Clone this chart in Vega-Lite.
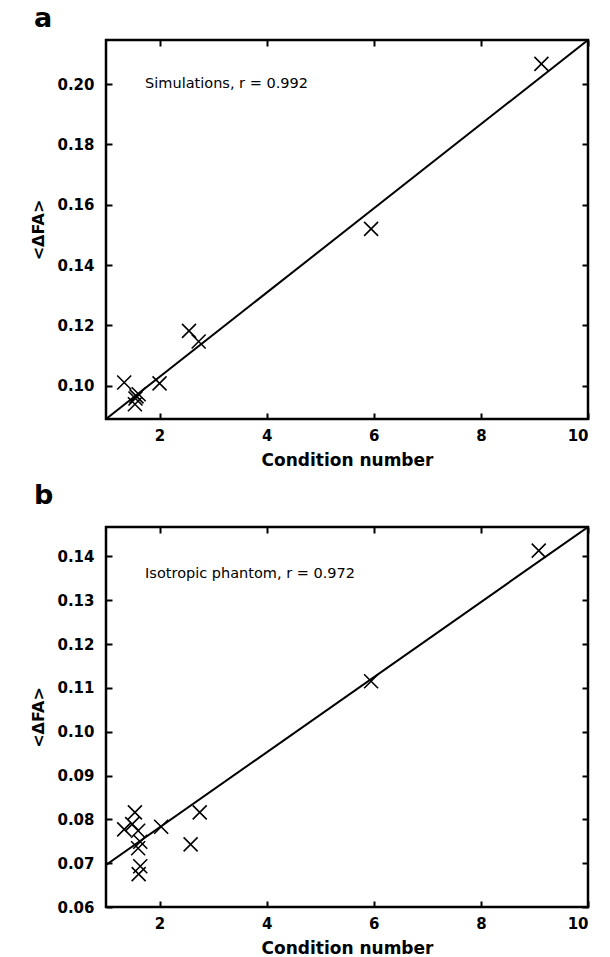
{
  "$schema": "https://vega.github.io/schema/vega-lite/v6.json",
  "padding": {"left": 29, "top": 3, "right": 6, "bottom": 0},
  "background": "white",
  "config": {
    "font": "DejaVu Sans",
    "view": {"stroke": "black", "strokeWidth": 2.5},
    "axis": {
      "domain": false, "grid": false,
      "tickColor": "black", "tickWidth": 2, "tickSize": -6,
      "labelFont": "DejaVu Sans", "labelFontSize": 15, "labelFontWeight": "bold", "labelColor": "black",
      "titleFont": "DejaVu Sans", "titleFontWeight": "bold", "titleColor": "black"
    },
    "title": {"font": "DejaVu Sans", "fontWeight": "bold", "fontSize": 27, "anchor": "start", "frame": "bounds", "color": "black", "baseline": "alphabetic", "dx": 3}
  },
  "datasets": {
    "ptsA": [
      {"cn": 9.13, "fa": 0.2067},
      {"cn": 5.95, "fa": 0.152},
      {"cn": 2.55, "fa": 0.1182},
      {"cn": 2.73, "fa": 0.1147},
      {"cn": 1.34, "fa": 0.1011},
      {"cn": 2.0, "fa": 0.1008},
      {"cn": 1.57, "fa": 0.0965},
      {"cn": 1.61, "fa": 0.0972},
      {"cn": 1.55, "fa": 0.0958},
      {"cn": 1.54, "fa": 0.0939}
    ],
    "lineA": [{"cn": 1, "fa": 0.089}, {"cn": 10, "fa": 0.2146}],
    "noteA": [{"cn": 1.73, "fa": 0.2, "label": "Simulations, r = 0.992"}],
    "ptsB": [
      {"cn": 9.08, "fa": 0.1413},
      {"cn": 5.95, "fa": 0.1115},
      {"cn": 1.54, "fa": 0.0816},
      {"cn": 1.34, "fa": 0.0777},
      {"cn": 1.49, "fa": 0.0789},
      {"cn": 1.6, "fa": 0.0774},
      {"cn": 1.64, "fa": 0.0749},
      {"cn": 1.6, "fa": 0.0734},
      {"cn": 1.64, "fa": 0.0693},
      {"cn": 1.61, "fa": 0.0675},
      {"cn": 2.03, "fa": 0.0783},
      {"cn": 2.58, "fa": 0.0743},
      {"cn": 2.75, "fa": 0.0816}
    ],
    "lineB": [{"cn": 1, "fa": 0.0696}, {"cn": 10, "fa": 0.1467}],
    "noteB": [{"cn": 1.73, "fa": 0.136, "label": "Isotropic phantom, r = 0.972"}]
  },
  "spacing": 10,
  "vconcat": [
    {
      "width": 482, "height": 379,
      "title": {"text": "a", "offset": 6},
      "layer": [
        {
          "data": {"name": "lineA"},
          "mark": {"type": "line", "color": "black", "strokeWidth": 2, "clip": true},
          "encoding": {
            "x": {"field": "cn", "type": "quantitative", "scale": {"domain": [1, 10], "nice": false, "zero": false},
                  "axis": {"values": [2, 4, 6, 8, 10], "format": "d", "labelPadding": 15, "title": "Condition number", "titleFontSize": 17, "titlePadding": 9}},
            "y": {"field": "fa", "type": "quantitative", "scale": {"domain": [0.089, 0.2146], "nice": false, "zero": false},
                  "axis": {"values": [0.10, 0.12, 0.14, 0.16, 0.18, 0.20], "format": ".2f", "labelPadding": 18, "title": "<ΔFA>", "titleFontSize": 16, "titlePadding": 10}}
          }
        },
        {
          "data": {"name": "ptsA"},
          "mark": {"type": "point", "shape": "M-1,-1L1,1M1,-1L-1,1", "size": 196, "strokeWidth": 1.6, "color": "black", "filled": false, "opacity": 1},
          "encoding": {
            "x": {"field": "cn", "type": "quantitative", "axis": {"orient": "top", "values": [2, 4, 6, 8, 10], "labels": false, "title": null}},
            "y": {"field": "fa", "type": "quantitative", "axis": {"orient": "right", "values": [0.10, 0.12, 0.14, 0.16, 0.18, 0.20], "labels": false, "title": null, "minExtent": 0}}
          }
        },
        {
          "data": {"name": "noteA"},
          "mark": {"type": "text", "align": "left", "baseline": "middle", "fontSize": 14.5, "color": "black", "font": "DejaVu Sans"},
          "encoding": {
            "x": {"field": "cn", "type": "quantitative", "axis": null},
            "y": {"field": "fa", "type": "quantitative", "axis": null},
            "text": {"field": "label"}
          }
        }
      ],
      "resolve": {"axis": {"x": "independent", "y": "independent"}}
    },
    {
      "width": 482, "height": 380,
      "title": {"text": "b", "offset": 16},
      "layer": [
        {
          "data": {"name": "lineB"},
          "mark": {"type": "line", "color": "black", "strokeWidth": 2, "clip": true},
          "encoding": {
            "x": {"field": "cn", "type": "quantitative", "scale": {"domain": [1, 10], "nice": false, "zero": false},
                  "axis": {"values": [2, 4, 6, 8, 10], "format": "d", "labelPadding": 15, "title": "Condition number", "titleFontSize": 17, "titlePadding": 9}},
            "y": {"field": "fa", "type": "quantitative", "scale": {"domain": [0.06, 0.1467], "nice": false, "zero": false},
                  "axis": {"values": [0.06, 0.07, 0.08, 0.09, 0.10, 0.11, 0.12, 0.13, 0.14], "format": ".2f", "labelPadding": 18, "title": "<ΔFA>", "titleFontSize": 16, "titlePadding": 10}}
          }
        },
        {
          "data": {"name": "ptsB"},
          "mark": {"type": "point", "shape": "M-1,-1L1,1M1,-1L-1,1", "size": 196, "strokeWidth": 1.6, "color": "black", "filled": false, "opacity": 1},
          "encoding": {
            "x": {"field": "cn", "type": "quantitative", "axis": {"orient": "top", "values": [2, 4, 6, 8, 10], "labels": false, "title": null}},
            "y": {"field": "fa", "type": "quantitative", "axis": {"orient": "right", "values": [0.06, 0.07, 0.08, 0.09, 0.10, 0.11, 0.12, 0.13, 0.14], "labels": false, "title": null, "minExtent": 0}}
          }
        },
        {
          "data": {"name": "noteB"},
          "mark": {"type": "text", "align": "left", "baseline": "middle", "fontSize": 14.5, "color": "black", "font": "DejaVu Sans"},
          "encoding": {
            "x": {"field": "cn", "type": "quantitative", "axis": null},
            "y": {"field": "fa", "type": "quantitative", "axis": null},
            "text": {"field": "label"}
          }
        }
      ],
      "resolve": {"axis": {"x": "independent", "y": "independent"}}
    }
  ]
}
